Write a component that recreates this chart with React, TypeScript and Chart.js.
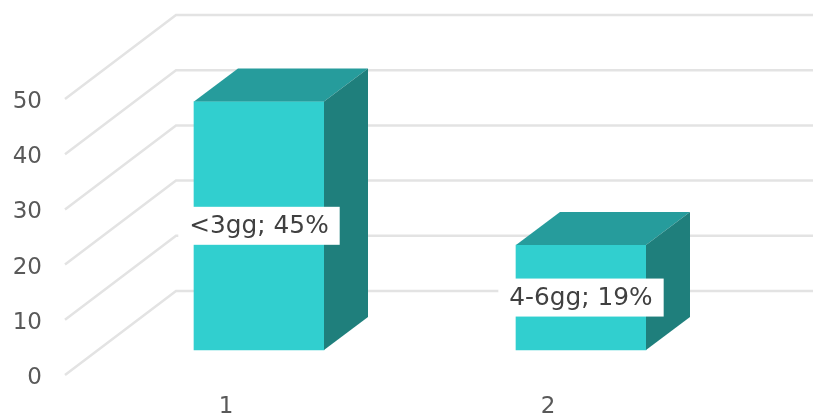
import React, { useEffect, useRef } from "react";
import { Chart, registerables } from "chart.js";

Chart.register(...registerables);

const categories = ["1", "2"];
const durations = ["<3gg", "4-6gg"];
const shares = [45, 19];
const yTicks = { min: 0, max: 50, step: 10 };

const WALL_DX = 111;
const WALL_DY = -84;
const FLOOR_DX = 33;
const FLOOR_DY = -25;
const DEPTH_DX = 44;
const DEPTH_DY = -33;
const FONT = '"DejaVu Sans", sans-serif';

// Draws the perspective walls, raises the bars onto the floor, and adds their side faces and labels.
const boxPlugin = {
  id: "box3d",
  beforeDatasetsDraw(chart: any) {
    const { ctx, scales } = chart;
    const y = scales.y;
    const left = chart.chartArea.left;
    ctx.save();
    ctx.strokeStyle = "#e3e3e3";
    ctx.lineWidth = 2.5;
    y.ticks.forEach((t: any) => {
      const py = y.getPixelForValue(t.value);
      ctx.beginPath();
      ctx.moveTo(left, py);
      ctx.lineTo(left + WALL_DX, py + WALL_DY);
      ctx.lineTo(chart.width, py + WALL_DY);
      ctx.stroke();
    });
    ctx.restore();
    ctx.save();
    ctx.translate(FLOOR_DX, FLOOR_DY);
  },
  afterDatasetsDraw(chart: any) {
    const { ctx } = chart;
    const bars = chart.getDatasetMeta(0).data;
    bars.forEach((bar: any) => {
      const l = bar.x - bar.width / 2;
      const r = bar.x + bar.width / 2;
      ctx.fillStyle = "#269c9c";
      ctx.beginPath();
      ctx.moveTo(l, bar.y);
      ctx.lineTo(l + DEPTH_DX, bar.y + DEPTH_DY);
      ctx.lineTo(r + DEPTH_DX, bar.y + DEPTH_DY);
      ctx.lineTo(r, bar.y);
      ctx.closePath();
      ctx.fill();
      ctx.fillStyle = "#1f7f7c";
      ctx.beginPath();
      ctx.moveTo(r, bar.y);
      ctx.lineTo(r + DEPTH_DX, bar.y + DEPTH_DY);
      ctx.lineTo(r + DEPTH_DX, bar.base + DEPTH_DY);
      ctx.lineTo(r, bar.base);
      ctx.closePath();
      ctx.fill();
    });
    ctx.restore();

    ctx.save();
    ctx.font = `24.8px ${FONT}`;
    ctx.textAlign = "center";
    ctx.textBaseline = "middle";
    bars.forEach((bar: any, i: number) => {
      const cx = bar.x + FLOOR_DX;
      const cy = (bar.y + bar.base) / 2 + FLOOR_DY;
      const text = `${durations[i]}; ${shares[i]}%`;
      const w = ctx.measureText(text).width + 22;
      ctx.fillStyle = "#ffffff";
      ctx.fillRect(cx - w / 2, cy - 19, w, 38);
      ctx.fillStyle = "#404040";
      ctx.fillText(text, cx, cy + 1);
    });
    ctx.restore();
  },
};

export default function App() {
  const canvasRef = useRef<HTMLCanvasElement>(null);

  useEffect(() => {
    const chart = new Chart(canvasRef.current as HTMLCanvasElement, {
      type: "bar",
      data: {
        labels: categories,
        datasets: [
          {
            data: shares,
            backgroundColor: "#31cfcf",
            borderWidth: 0,
            barThickness: 130,
            clip: false,
          } as any,
        ],
      },
      options: {
        responsive: false,
        animation: false,
        layout: { padding: { top: 99, right: 104, left: 0, bottom: 0 } },
        plugins: { legend: { display: false }, tooltip: { enabled: false } },
        scales: {
          x: {
            afterFit: (s: any) => {
              s.height = 39;
            },
            grid: { display: false },
            border: { display: false },
            ticks: {
              color: "#595959",
              font: { family: FONT, size: 23 },
              padding: 10,
              maxRotation: 0,
            },
          },
          y: {
            min: yTicks.min,
            max: yTicks.max,
            afterFit: (s: any) => {
              s.width = 65;
            },
            grid: { display: false },
            border: { display: false },
            ticks: {
              stepSize: yTicks.step,
              color: "#595959",
              font: { family: FONT, size: 23 },
              padding: 15,
              labelOffset: 3,
            },
          },
        },
      },
      plugins: [boxPlugin],
    } as any);
    return () => chart.destroy();
  }, []);

  return (
    <div style={{ position: "absolute", left: 0, top: 0, width: 813, height: 414, background: "#ffffff" }}>
      <canvas ref={canvasRef} width={813} height={414} style={{ display: "block" }} />
    </div>
  );
}
